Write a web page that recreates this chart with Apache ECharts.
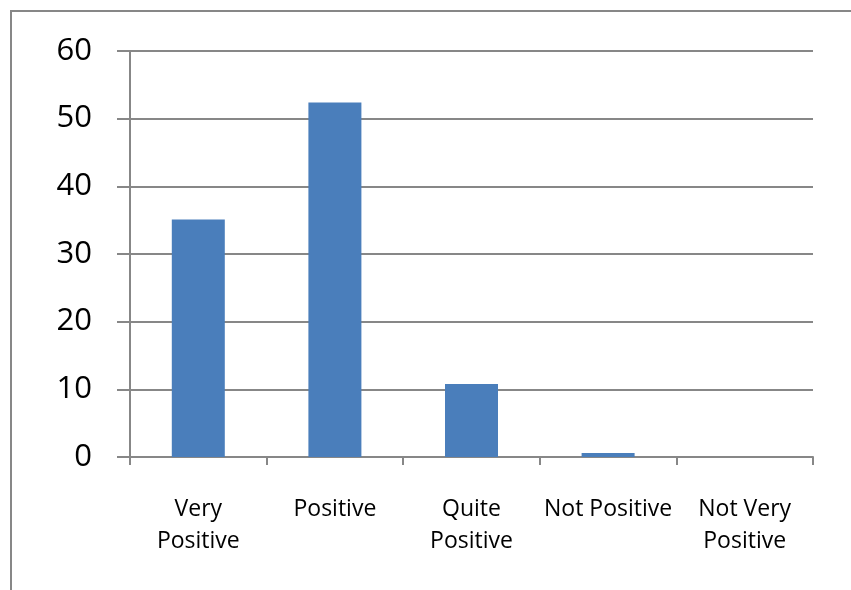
<!DOCTYPE html>
<html>
<head>
<meta charset="utf-8">
<script src="https://cdn.jsdelivr.net/npm/echarts@6/dist/echarts.min.js"></script>
<style>
  html, body { margin: 0; padding: 0; background: #fff; }
  #chart { width: 851px; height: 590px; }
</style>
</head>
<body>
<div id="chart"></div>
<script>
var categories = ["Very\nPositive", "Positive", "Quite\nPositive", "Not Positive", "Not Very\nPositive"];
var values = [35.1, 52.4, 10.8, 0.6, 0];
var yTicks = [0, 10, 20, 30, 40, 50, 60];

var axisGray = "#878787";

var chart = echarts.init(document.getElementById("chart"));
chart.setOption({
    animation: false,
    graphic: [{
        type: "rect",
        shape: { x: 11, y: 11, width: 900, height: 700 },
        style: { fill: "none", stroke: axisGray, lineWidth: 2 },
        silent: true
    }],
    grid: { left: 130, right: 38, top: 51, bottom: 133 },
    xAxis: {
        type: "category",
        data: categories,
        axisLine: { show: true, lineStyle: { color: axisGray, width: 2 } },
        axisTick: { show: true, length: 8, lineStyle: { color: axisGray, width: 2 } },
        axisLabel: {
            interval: 0,
            margin: 36,
            color: "#000",
            fontFamily: "Open Sans",
            fontSize: 23,
            lineHeight: 32
        }
    },
    yAxis: {
        type: "value",
        min: yTicks[0],
        max: yTicks[yTicks.length - 1],
        interval: 10,
        axisLine: { show: true, lineStyle: { color: axisGray, width: 2 } },
        axisTick: { show: true, length: 13, lineStyle: { color: axisGray, width: 2 } },
        splitLine: { show: true, lineStyle: { color: axisGray, width: 2 } },
        axisLabel: {
            margin: 38,
            color: "#000",
            fontFamily: "Open Sans",
            fontSize: 31,
            padding: [4, 0, 0, 0]
        }
    },
    series: [{
        type: "bar",
        data: values,
        barWidth: 53,
        itemStyle: { color: "#4A7EBB" }
    }]
});
</script>
</body>
</html>
